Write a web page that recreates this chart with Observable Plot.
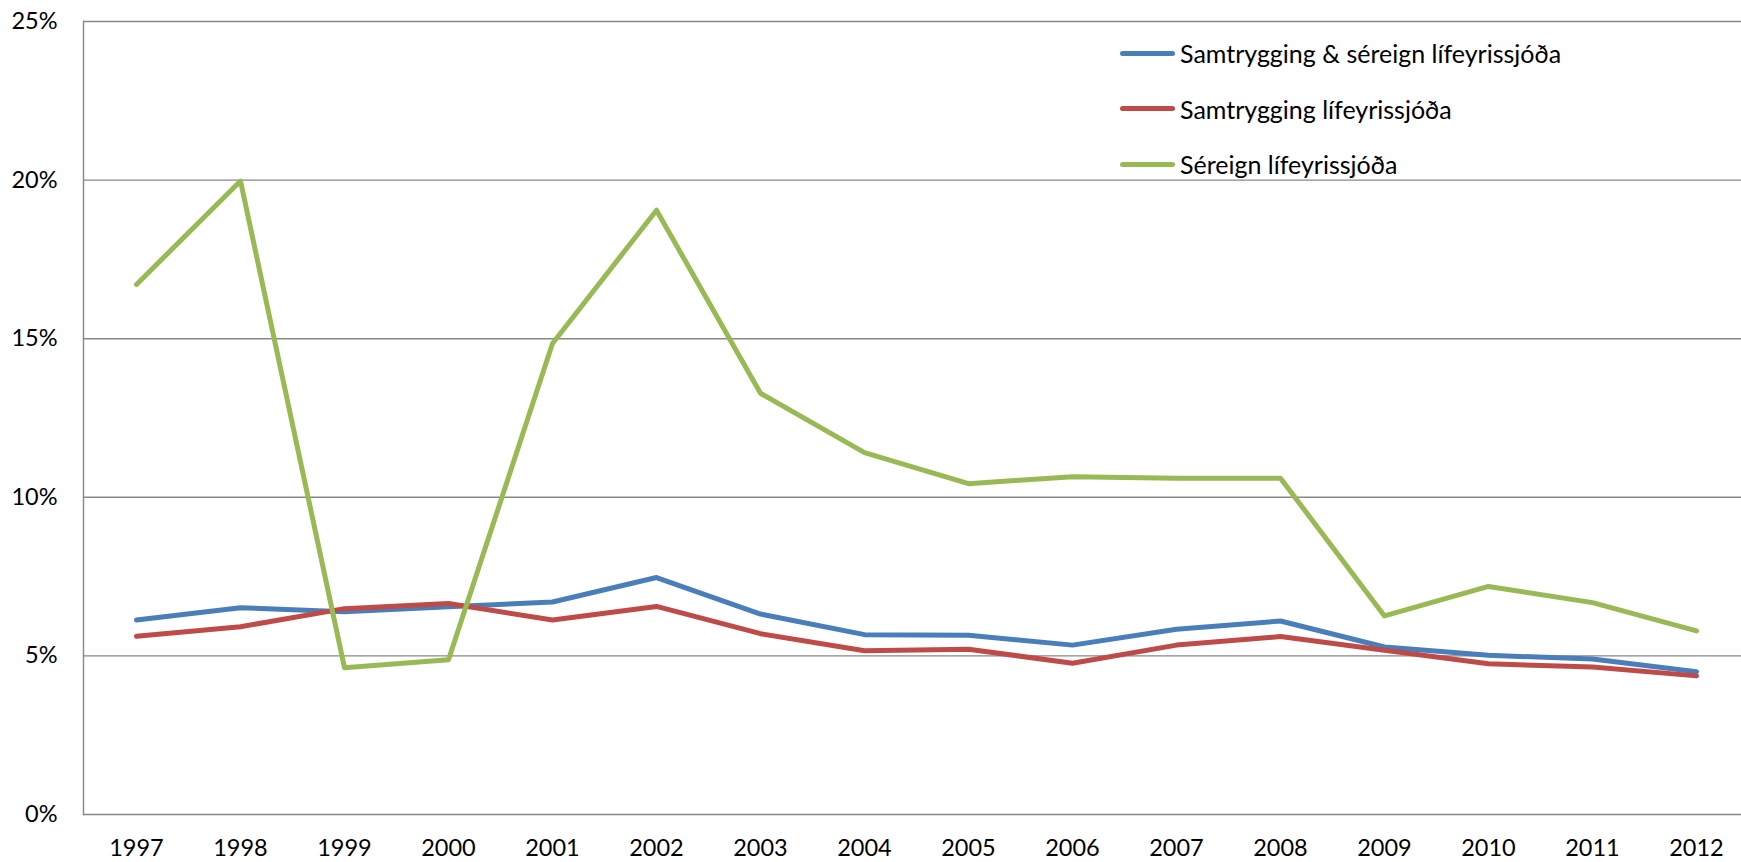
<!DOCTYPE html>
<html>
<head>
<meta charset="utf-8">
<script src="https://cdn.jsdelivr.net/npm/d3@7"></script>
<script src="https://cdn.jsdelivr.net/npm/@observablehq/plot@0.6"></script>
<style>
  html, body { margin: 0; padding: 0; background: #fff; overflow: hidden; }
  #wrap { position: relative; width: 1741px; height: 862px; font-family: Lato, "Open Sans", sans-serif; }
  #legend { position: absolute; left: 1120px; top: 25.8px; }
  .item { display: flex; align-items: center; height: 55.3px; font-size: 25px; color: #000; white-space: nowrap; }
  .sw { width: 55px; height: 5px; border-radius: 3px; margin-right: 5px; }
</style>
</head>
<body>
<div id="wrap"><div id="legend"></div></div>
<script>
const years = ["1997","1998","1999","2000","2001","2002","2003","2004","2005","2006","2007","2008","2009","2010","2011","2012"];
const seriesNames = ["Samtrygging & séreign lífeyrissjóða", "Samtrygging lífeyrissjóða", "Séreign lífeyrissjóða"];
const seriesColors = ["#4A7EBB", "#BE4B48", "#98B954"];
const blueValues  = [6.13, 6.52, 6.39, 6.55, 6.70, 7.47, 6.32, 5.67, 5.65, 5.34, 5.84, 6.10, 5.28, 5.02, 4.90, 4.50];
const redValues   = [5.62, 5.92, 6.49, 6.65, 6.13, 6.56, 5.70, 5.16, 5.21, 4.77, 5.34, 5.61, 5.18, 4.75, 4.65, 4.37];
const greenValues = [16.71, 19.97, 4.63, 4.88, 14.85, 19.05, 13.28, 11.41, 10.43, 10.65, 10.60, 10.60, 6.26, 7.19, 6.68, 5.79];
const yTicks = [0, 5, 10, 15, 20, 25];

const allValues = [blueValues, redValues, greenValues];
const data = [];
allValues.forEach((vals, si) => vals.forEach((v, i) => data.push({year: years[i], value: v, series: seriesNames[si]})));

const chart = Plot.plot({
  width: 1741,
  height: 862,
  marginTop: 21,
  marginBottom: 48,
  marginLeft: 83,
  marginRight: 0,
  style: {fontFamily: "Lato, 'Open Sans', sans-serif", fontSize: "23.5px", color: "#000", background: "#fff"},
  x: {type: "point", domain: years, range: [134.3, 1698.5], padding: 0, label: null},
  y: {domain: [0, 25], label: null},
  color: {domain: seriesNames, range: seriesColors},
  marks: [
    Plot.gridY(yTicks, {stroke: "#878787", strokeOpacity: 1, strokeWidth: 1.4}),
    Plot.frame({anchor: "left", stroke: "#878787", strokeWidth: 1.4}),
    Plot.axisY(yTicks, {tickSize: 0, tickPadding: 26, tickFormat: d => d + "%", label: null, fill: "#000"}),
    Plot.axisX(years, {tickSize: 0, tickPadding: 25, label: null, fill: "#000"}),
    Plot.line(data, {x: "year", y: "value", z: "series", stroke: "series", strokeWidth: 5, strokeLinejoin: "round", strokeLinecap: "round"})
  ]
});
document.getElementById("wrap").prepend(chart);

const legend = document.getElementById("legend");
seriesNames.forEach((name, i) => {
  const item = document.createElement("div");
  item.className = "item";
  const sw = document.createElement("div");
  sw.className = "sw";
  sw.style.background = seriesColors[i];
  const label = document.createElement("span");
  label.textContent = name;
  item.appendChild(sw);
  item.appendChild(label);
  legend.appendChild(item);
});
</script>
</body>
</html>
